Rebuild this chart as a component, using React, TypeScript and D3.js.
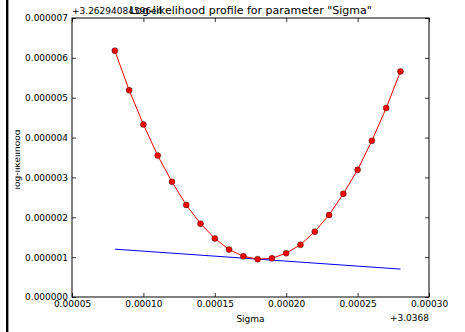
import React, { useRef, useEffect } from "react";
import * as d3 from "d3";

// sigma values, offset from +3.0368
const sigmaOffsets = [
  0.00008, 0.00009, 0.0001, 0.00011, 0.00012, 0.00013, 0.00014, 0.00015, 0.00016, 0.00017,
  0.00018, 0.00019, 0.0002, 0.00021, 0.00022, 0.00023, 0.00024, 0.00025, 0.00026, 0.00027,
  0.00028,
];
// log-likelihood, offset from +3.26294084596e4
const logLik = [
  6.18e-6, 5.19e-6, 4.33e-6, 3.55e-6, 2.89e-6, 2.31e-6, 1.84e-6, 1.47e-6, 1.19e-6, 1.02e-6,
  0.95e-6, 0.97e-6, 1.1e-6, 1.31e-6, 1.64e-6, 2.06e-6, 2.59e-6, 3.19e-6, 3.92e-6, 4.74e-6,
  5.66e-6,
];
// straight reference line
const refLineX = [0.00008, 0.00028];
const refLineY = [1.2e-6, 0.7e-6];

const xTicks = [0.00005, 0.0001, 0.00015, 0.0002, 0.00025, 0.0003];
const yTicks = [0, 1e-6, 2e-6, 3e-6, 4e-6, 5e-6, 6e-6, 7e-6];

const title = 'Log-likelihood profile for parameter "Sigma"';
const xLabel = "Sigma";
const yLabel = "log-likelihood";
const xOffsetText = "+3.0368";
const yOffsetText = "+3.26294084596e4";

const FONT = "DejaVu Sans, sans-serif";

const App = () => {
  const svgRef = useRef<SVGSVGElement>(null);

  useEffect(() => {
    const svg = d3.select(svgRef.current);
    svg.selectAll("*").remove();

    const W = 465;
    const H = 332;
    const margin = { top: 18, right: 36, bottom: 35, left: 72 };
    const width = W - margin.left - margin.right;
    const height = H - margin.top - margin.bottom;

    const x = d3.scaleLinear().domain([0.00005, 0.0003]).range([0, width]);
    const y = d3.scaleLinear().domain([0, 7e-6]).range([height, 0]);

    svg.attr("width", W).attr("height", H);

    svg.append("rect").attr("width", W).attr("height", H).attr("fill", "#fff");

    // dark strip on the left edge
    svg.append("rect").attr("x", 6).attr("y", 0).attr("width", 2.4).attr("height", H).attr("fill", "#000");

    const g = svg.append("g").attr("transform", `translate(${margin.left},${margin.top})`);

    const styleAxis = (sel) => {
      sel.select(".domain").remove();
      sel.selectAll(".tick line").attr("stroke", "#000").attr("stroke-width", 0.8);
      sel.selectAll(".tick text")
        .attr("fill", "#000")
        .style("font-family", FONT)
        .style("font-size", "9px");
    };

    g.append("g")
      .attr("transform", `translate(0,${height})`)
      .call(d3.axisBottom(x).tickValues(xTicks).tickFormat(d3.format(".5f")).tickSizeInner(-4).tickSizeOuter(0).tickPadding(4))
      .call(styleAxis);

    g.append("g")
      .call(d3.axisTop(x).tickValues(xTicks).tickFormat(() => "").tickSizeInner(-4).tickSizeOuter(0))
      .call(styleAxis);

    g.append("g")
      .call(d3.axisLeft(y).tickValues(yTicks).tickFormat(d3.format(".6f")).tickSizeInner(-4).tickSizeOuter(0).tickPadding(4))
      .call(styleAxis);

    g.append("g")
      .attr("transform", `translate(${width},0)`)
      .call(d3.axisRight(y).tickValues(yTicks).tickFormat(() => "").tickSizeInner(-4).tickSizeOuter(0))
      .call(styleAxis);

    // reference line
    const line = d3.line<number>()
      .x((d, i) => x(d))
      .y((d, i) => y(refLineY[i]));
    g.append("path")
      .datum(refLineX)
      .attr("d", line)
      .attr("fill", "none")
      .attr("stroke", "#0000ff")
      .attr("stroke-width", 1);

    // profile curve
    const profile = sigmaOffsets.map((s, i) => [s, logLik[i]] as [number, number]);
    g.append("path")
      .datum(profile)
      .attr("d", d3.line().x(d => x(d[0])).y(d => y(d[1])))
      .attr("fill", "none")
      .attr("stroke", "#ff0000")
      .attr("stroke-width", 1);

    g.selectAll("circle.pt")
      .data(profile)
      .enter()
      .append("circle")
      .attr("class", "pt")
      .attr("cx", d => x(d[0]))
      .attr("cy", d => y(d[1]))
      .attr("r", 3)
      .attr("fill", "#ff0000")
      .attr("stroke", "#000")
      .attr("stroke-width", 0.4);

    // frame
    g.append("rect")
      .attr("width", width)
      .attr("height", height)
      .attr("fill", "none")
      .attr("stroke", "#000")
      .attr("stroke-width", 1);

    // offset texts
    g.append("text")
      .attr("x", 0)
      .attr("y", -4)
      .text(yOffsetText)
      .style("font-family", FONT)
      .style("font-size", "9px");

    g.append("text")
      .attr("x", width)
      .attr("y", height + 24)
      .attr("text-anchor", "end")
      .text(xOffsetText)
      .style("font-family", FONT)
      .style("font-size", "9px");

    // title
    g.append("text")
      .attr("x", width / 2)
      .attr("y", -4)
      .attr("text-anchor", "middle")
      .text(title)
      .style("font-family", FONT)
      .style("font-size", "11px");

    // axis labels
    g.append("text")
      .attr("x", width / 2)
      .attr("y", height + 25)
      .attr("text-anchor", "middle")
      .text(xLabel)
      .style("font-family", FONT)
      .style("font-size", "9px");

    // y label: partly cut off on its left side, as in the original
    const defs = svg.append("defs");
    defs.append("clipPath")
      .attr("id", "ylab-clip")
      .append("rect")
      .attr("x", 15.5)
      .attr("y", 0)
      .attr("width", 40)
      .attr("height", H);

    svg.append("g")
      .attr("clip-path", "url(#ylab-clip)")
      .append("text")
      .attr("transform", `translate(20,${margin.top + height / 2 + 2}) rotate(-90)`)
      .attr("text-anchor", "middle")
      .text(yLabel)
      .style("font-family", FONT)
      .style("font-size", "9px");
  }, []);

  return (
    <svg ref={svgRef} style={{ position: "absolute", left: 0, top: 0, display: "block" }}></svg>
  );
};

export default App;
